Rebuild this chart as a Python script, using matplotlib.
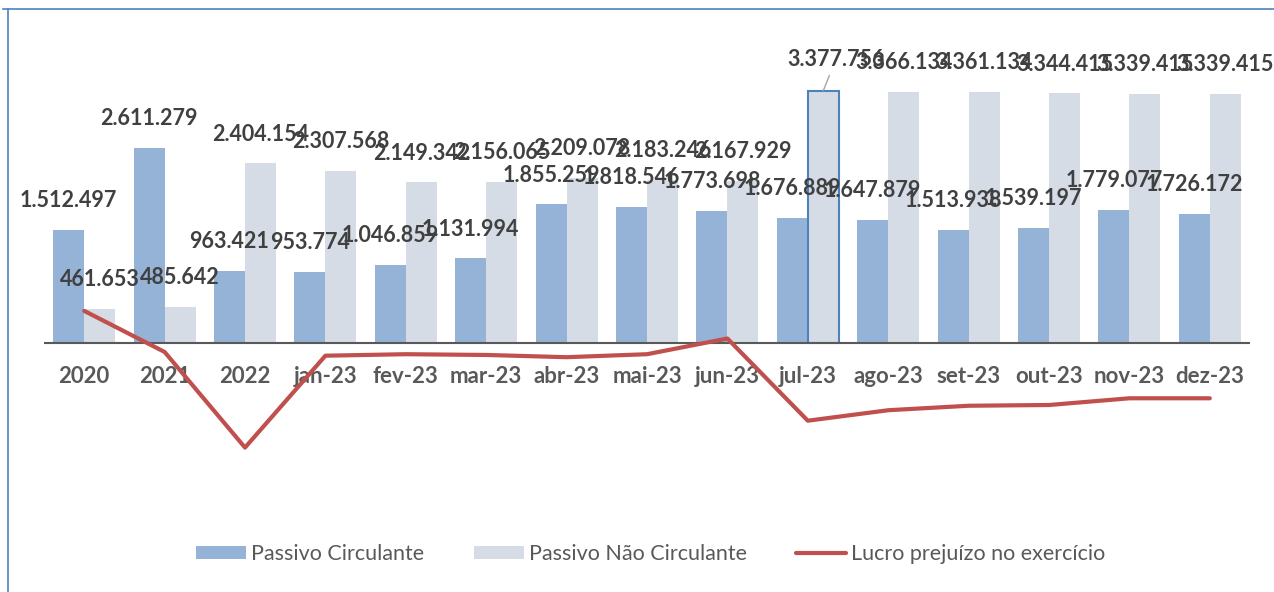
import numpy as np
import matplotlib
matplotlib.use("Agg")
import matplotlib.pyplot as plt
from matplotlib.lines import Line2D

plt.rcParams['font.family'] = ['Lato', 'DejaVu Sans']

categorias = ['2020', '2021', '2022', 'jan-23', 'fev-23', 'mar-23', 'abr-23', 'mai-23',
              'jun-23', 'jul-23', 'ago-23', 'set-23', 'out-23', 'nov-23', 'dez-23']
passivo_circ = [1512497, 2611279, 963421, 953774, 1046859, 1131994, 1855259, 1818546,
                1773698, 1676889, 1647879, 1513938, 1539197, 1779077, 1726172]
passivo_nao_circ = [461653, 485642, 2404154, 2307568, 2149342, 2156065, 2209078, 2183246,
                    2167929, 3377756, 3366134, 3361134, 3344415, 3339415, 3339415]
# (estimado)
lucro = [430000, -120000, -1400000, -170000, -150000, -160000, -190000, -150000,
         60000, -1040000, -900000, -840000, -830000, -740000, -740000]

def fmt(v):
    return f"{v:,}".replace(",", ".")

c_pc = '#95B3D7'
c_pnc = '#D6DCE5'
c_lucro = '#C0504D'

fig = plt.figure(figsize=(12.74, 5.92), dpi=100)
ax = fig.add_axes([44/1274, 1-500/592, (1250-44)/1274, 440/592])

x = np.arange(len(categorias))
w = 0.385
b1 = ax.bar(x - w/2, passivo_circ, w, color=c_pc, label='Passivo Circulante', zorder=2)
b2 = ax.bar(x + w/2, passivo_nao_circ, w, color=c_pnc, label='Passivo Não Circulante', zorder=2)
# barra selecionada no original
b2[9].set_edgecolor('#4F81BD')
b2[9].set_linewidth(1.5)

ax.plot(x, lucro, color=c_lucro, lw=3, solid_capstyle='round', solid_joinstyle='round',
        label='Lucro prejuízo no exercício', zorder=4)

ax.axhline(0, color='#595959', lw=1.5, zorder=3)

lab = dict(ha='center', va='center', fontsize=15.5, fontweight='bold', color='#404040',
           textcoords='offset points', zorder=5)
for i in range(len(categorias)):
    ax.annotate(fmt(passivo_circ[i]), (x[i] - w/2, passivo_circ[i]), xytext=(0, 21), **lab)
    if i == 9:
        ax.annotate(fmt(passivo_nao_circ[i]), (x[i] + w/2, passivo_nao_circ[i]), xytext=(9, 22.5),
                    arrowprops=dict(arrowstyle='-', color='#A6A6A6', lw=1, shrinkA=2, shrinkB=0), **lab)
    else:
        ax.annotate(fmt(passivo_nao_circ[i]), (x[i] + w/2, passivo_nao_circ[i]), xytext=(0, 21), **lab)
    ax.annotate(categorias[i], (x[i], 0), xytext=(0, -24), ha='center', va='center',
                fontsize=16, fontweight='bold', color='#595959', textcoords='offset points', zorder=1)

ax.set_xlim(-0.5, len(categorias) - 0.5)
ax.set_ylim(-2101700, 3788500)
ax.axis('off')

fig.legend(handles=[b1, b2, ax.lines[0]], loc='center', bbox_to_anchor=(651/1274, 1-554/592),
           ncol=3, frameon=False, fontsize=15.5, handlelength=2.3, handleheight=0.6,
           handletextpad=0.25, columnspacing=2.3, labelcolor='#595959')

# moldura do grafico
fig.add_artist(Line2D([8/1274, 8/1274], [0, 1-9/592], color='#4F81BD', lw=1.2))
fig.add_artist(Line2D([3/1274, 1], [1-9/592, 1-9/592], color='#4F81BD', lw=1.2))

fig.savefig('out.png', dpi=100)
